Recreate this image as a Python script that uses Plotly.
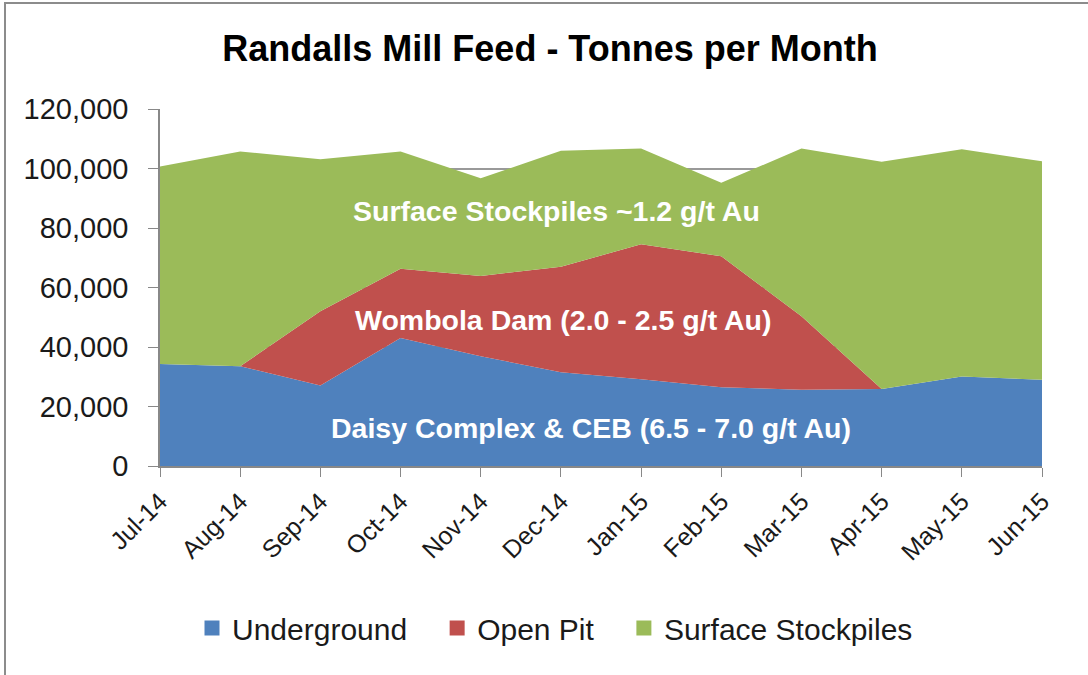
import plotly.graph_objects as go

months = ["Jul-14", "Aug-14", "Sep-14", "Oct-14", "Nov-14", "Dec-14",
          "Jan-15", "Feb-15", "Mar-15", "Apr-15", "May-15", "Jun-15"]
underground = [34300, 33500, 27100, 43000, 36900, 31500, 29200, 26500, 25600, 25900, 30100, 29000]
open_pit = [0, 0, 24900, 23300, 27000, 35500, 45300, 44000, 24700, 0, 0, 0]
surface = [66400, 72200, 51100, 39400, 32800, 39000, 32200, 24700, 56400, 76400, 76400, 73400]

series_names = ["Underground", "Open Pit", "Surface Stockpiles"]
series_colors = ["#4F81BD", "#C0504D", "#9BBB59"]
series_values = [underground, open_pit, surface]

region_labels = ["Daisy Complex & CEB (6.5 - 7.0 g/t Au)",
                 "Wombola Dam (2.0 - 2.5 g/t Au)",
                 "Surface Stockpiles ~1.2 g/t Au"]
label_x = [5.38, 5.03, 4.95]
label_y = [12800, 49100, 85700]

FONT = "Liberation Sans, Arial, sans-serif"
W, H = 1088, 675
L, R, T, B = 160, 46, 109, 209

fig = go.Figure()
for name, color, vals in zip(series_names, series_colors, series_values):
    fig.add_trace(go.Scatter(
        x=months, y=vals, name=name, stackgroup="one", mode="none",
        fillcolor=color, line=dict(width=0), showlegend=False,
        hoverinfo="x+y+name"))
pad = "\u00a0" * 3
for i, (name, color) in enumerate(zip(series_names, series_colors)):
    label = name + (pad if i < len(series_names) - 1 else "")
    fig.add_trace(go.Scatter(
        x=[None], y=[None], name=label, mode="markers",
        marker=dict(symbol="square", size=15, color=color),
        showlegend=True))

for txt, xx, yy in zip(region_labels, label_x, label_y):
    fig.add_annotation(x=xx, y=yy, xref="x", yref="y", text=txt,
                       showarrow=False, xanchor="center", yanchor="middle",
                       font=dict(family=FONT, size=28.5, color="white", weight="bold"))

pw = W - L - R
ph = H - T - B
# outer chart border (left and top edges visible)
fig.add_shape(type="rect", xref="paper", yref="paper",
              x0=(5 - L) / pw, x1=(1110 - L) / pw,
              y0=(H - B - 700) / ph, y1=(H - B - 3) / ph,
              line=dict(color="#8c8c8c", width=2), fillcolor="rgba(0,0,0,0)",
              layer="below")

fig.update_layout(
    width=W, height=H,
    margin=dict(l=L, r=R, t=T, b=B),
    paper_bgcolor="white", plot_bgcolor="white",
    title=dict(text="Randalls Mill Feed - Tonnes per Month",
               x=550 / W, xref="container", xanchor="center",
               y=1 - 48 / H, yref="container", yanchor="middle",
               font=dict(family=FONT, size=36, color="black", weight="bold")),
    font=dict(family=FONT, color="#1a1a1a"),
    legend=dict(orientation="h", x=(555 - L) / pw, xanchor="center",
                y=(H - B - 628) / ph, yanchor="middle", traceorder="normal",
                font=dict(family=FONT, size=30, color="#1a1a1a"),
                itemsizing="trace", bgcolor="rgba(0,0,0,0)"),
    showlegend=True,
)
fig.update_xaxes(type="category", range=[0, 11], showline=True, linecolor="#888888",
                 linewidth=1.5, ticks="outside", ticklen=9, tickcolor="#888888",
                 tickangle=-45, tickfont=dict(family=FONT, size=25, color="#1a1a1a"),
                 showgrid=False, zeroline=False)
fig.update_yaxes(range=[0, 120000], dtick=20000, tickformat=",", showline=True,
                 linecolor="#888888", linewidth=1.5, ticks="outside", ticklen=10,
                 tickcolor="#888888", showgrid=True, gridcolor="#999999", gridwidth=1.5,
                 tickfont=dict(family=FONT, size=29, color="#1a1a1a"),
                 ticklabelstandoff=14, zeroline=False)

fig.write_html("out.html", config={"displayModeBar": False},
               post_script="document.body.style.margin='0px';document.body.style.overflow='hidden';")
